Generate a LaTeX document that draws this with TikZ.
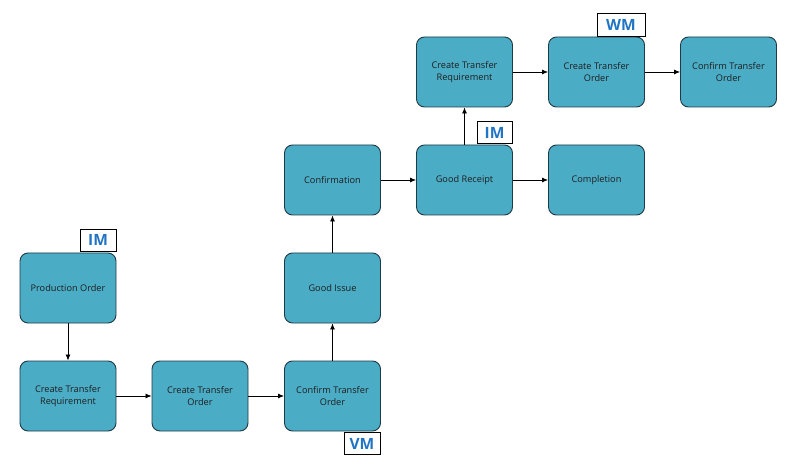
\documentclass[tikz,border=0pt]{standalone}
\usepackage{fontspec}
\setmainfont{Open Sans}
\usetikzlibrary{arrows.meta}
\definecolor{boxfill}{HTML}{4BACC6}
\definecolor{boxline}{HTML}{1F3A44}
\definecolor{tagblue}{HTML}{1F74C4}
\begin{document}
\begin{tikzpicture}[x=1pt,y=-1pt,
  proc/.style={draw=boxline,line width=0.9pt,fill=boxfill,rounded corners=8pt,
    minimum width=96pt,minimum height=70pt,align=center,font=\fontsize{9.2}{12.5}\selectfont,text=black!88},
  tag/.style={draw=black,line width=0.8pt,fill=white,inner sep=0pt,
    font=\fontsize{15.5}{15.5}\selectfont\bfseries,text=tagblue},
  conn/.style={-{Latex[length=6pt,width=5pt]},line width=0.8pt,black}]
\useasboundingbox (0,0) rectangle (789,470);
\node[proc] (po)  at (68,288) {Production Order};
\node[proc] (ctr1) at (68,396) {Create Transfer\\Requirement};
\node[proc] (cto1) at (200,396) {Create Transfer\\Order};
\node[proc] (cfo1) at (332.5,396) {Confirm Transfer\\Order};
\node[proc] (gi)  at (332.5,288) {Good Issue};
\node[proc] (conf) at (332.5,180) {Confirmation};
\node[proc] (gr)  at (464.5,180) {Good Receipt};
\node[proc] (comp) at (596.5,180) {Completion};
\node[proc] (ctr2) at (464.5,72) {Create Transfer\\Requirement};
\node[proc] (cto2) at (596.5,72) {Create Transfer\\Order};
\node[proc] (cfo2) at (728.5,72) {Confirm Transfer\\Order};
\node[tag,minimum width=36pt,minimum height=22pt] (im1) at (98,240) {IM};
\node[tag,minimum width=36pt,minimum height=22pt] (vm) at (362,443.5) {VM};
\node[tag,minimum width=48pt,minimum height=23pt] (wm) at (621,24.5) {WM};
\node[tag,minimum width=35pt,minimum height=22pt] (im2) at (494.5,132.5) {IM};
\draw[conn] (po) -- (ctr1);
\draw[conn] (ctr1) -- (cto1);
\draw[conn] (cto1) -- (cfo1);
\draw[conn] (cfo1) -- (gi);
\draw[conn] (gi) -- (conf);
\draw[conn] (conf) -- (gr);
\draw[conn] (gr) -- (comp);
\draw[conn] (gr) -- (ctr2);
\draw[conn] (ctr2) -- (cto2);
\draw[conn] (cto2) -- (cfo2);
\end{tikzpicture}
\end{document}
